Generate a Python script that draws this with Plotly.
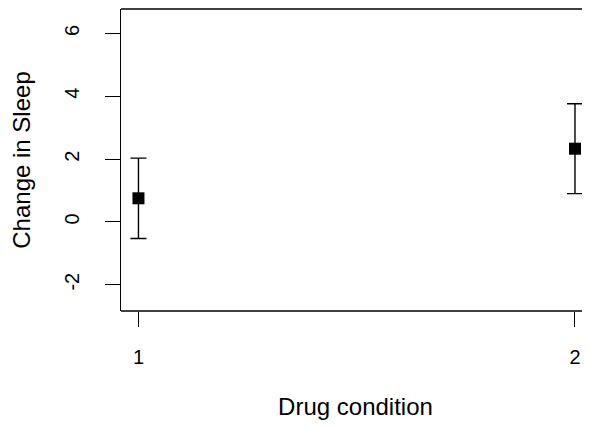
import plotly.graph_objects as go

conditions = [1, 2]
means = [0.75, 2.33]
upper = [2.03, 3.76]
lower = [-0.53, 0.90]
y_ticks = [-2, 0, 2, 4, 6]
x_ticks = [1, 2]

err_plus = [u - m for u, m in zip(upper, means)]
err_minus = [m - l for m, l in zip(means, lower)]

font = "Liberation Sans, Arial, sans-serif"

fig = go.Figure(go.Scatter(
    x=conditions, y=means, mode="markers",
    marker=dict(symbol="square", size=12, color="black"),
    error_y=dict(type="data", symmetric=False, array=err_plus, arrayminus=err_minus,
                 color="black", thickness=1.4, width=8),
    showlegend=False, cliponaxis=False,
))

# page has an 8px body margin; figure is offset by (8, 8)
fig.update_layout(
    width=590, height=412,
    margin=dict(l=113, r=8, t=1, b=109, autoexpand=False),
    plot_bgcolor="white", paper_bgcolor="white",
    font=dict(family=font, size=20, color="black"),
    shapes=[dict(type="line", xref="paper", yref="paper", x0=0, x1=1.03, y0=1, y1=1,
                 line=dict(color="black", width=1.3))],
)
fig.update_xaxes(
    range=[0.96, 2.0344], tickvals=x_ticks, ticktext=[str(v) for v in x_ticks],
    ticks="outside", ticklen=15, tickcolor="black", tickwidth=1.3,
    showline=False, mirror=False,
    showgrid=False, zeroline=False,
    title=dict(text="Drug condition", standoff=33),
    ticklabelstandoff=13,
)
fig.add_shape(type="line", xref="paper", yref="paper", x0=0, x1=1.03, y0=0, y1=0,
              line=dict(color="black", width=1.3))
fig.update_yaxes(
    range=[-2.84, 6.78], tickvals=y_ticks, ticktext=[str(v) for v in y_ticks],
    ticks="outside", ticklen=15, tickcolor="black", tickwidth=1.3,
    showline=True, linecolor="black", linewidth=1.3, mirror=False,
    showgrid=False, zeroline=False, tickangle=-90,
    title=dict(text="Change in Sleep", standoff=47),
    ticklabelstandoff=18,
)
fig.write_html("out.html")
